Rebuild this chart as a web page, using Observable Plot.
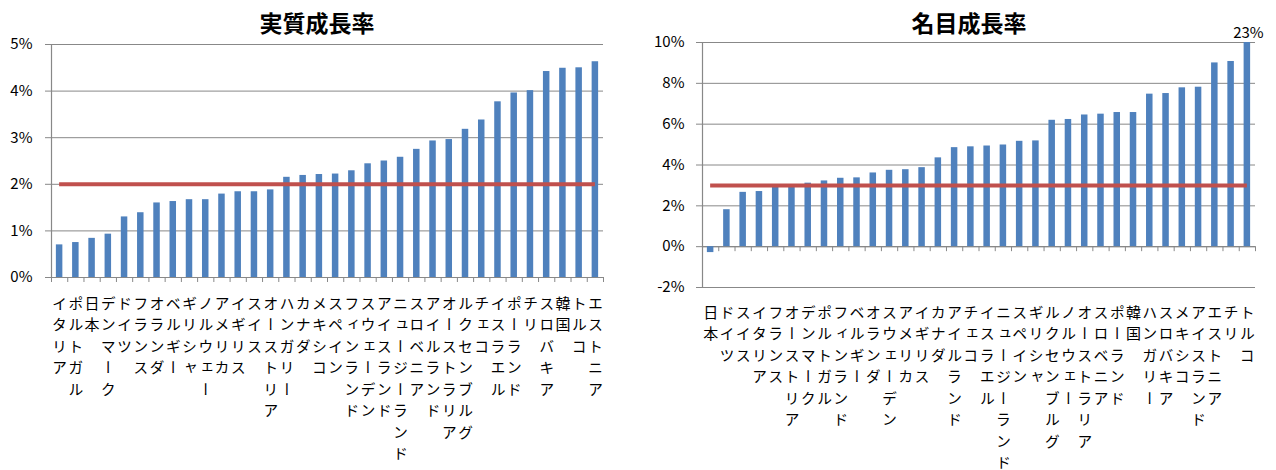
<!DOCTYPE html>
<html>
<head>
<meta charset="utf-8">
<script src="https://cdn.jsdelivr.net/npm/d3@7"></script>
<script src="https://cdn.jsdelivr.net/npm/@observablehq/plot@0.6"></script>
<style>
  body { margin: 0; background: #fff; }
  #wrap { position: relative; width: 1276px; height: 470px; overflow: hidden;
          font-family: "Noto Sans CJK JP", sans-serif; }
  .panel { position: absolute; top: 0; }
  .title { position: absolute; top: 9px; font-weight: bold; font-size: 23px; line-height: 26px;
           transform: translateX(-50%); white-space: nowrap; color: #000; }
</style>
</head>
<body>
<div id="wrap"></div>
<script>
// 実質成長率（昇順）
const realCountries = ["イタリア","ポルトガル","日本","デンマーク","ドイツ","フランス","オランダ","ベルギー","ギリシャ","ノルウェー","アメリカ","イギリス","スイス","オーストリア","ハンガリー","カナダ","メキシコ","スペイン","フィンランド","スウェーデン","アイスランド","ニュージーランド","スロベニア","アイルランド","オーストラリア","ルクセンブルグ","チェコ","イスラエル","ポーランド","チリ","スロバキア","韓国","トルコ","エストニア"];
const realGrowth = [0.70,0.75,0.84,0.93,1.30,1.39,1.60,1.63,1.67,1.67,1.79,1.84,1.84,1.88,2.15,2.19,2.21,2.22,2.29,2.44,2.50,2.58,2.75,2.93,2.96,3.18,3.38,3.77,3.96,4.01,4.42,4.49,4.50,4.63];
const realTarget = 2;
const realTicks = [0,1,2,3,4,5];

// 名目成長率（昇順）
const nominalCountries = ["日本","ドイツ","スイス","イタリア","フランス","オーストリア","デンマーク","ポルトガル","フィンランド","ベルギー","オランダ","スウェーデン","アメリカ","イギリス","カナダ","アイルランド","チェコ","イスラエル","ニュージーランド","スペイン","ギリシャ","ルクセンブルグ","ノルウェー","オーストラリア","スロベニア","ポーランド","韓国","ハンガリー","スロバキア","メキシコ","アイスランド","エストニア","チリ","トルコ"];
const nominalGrowth = [-0.29,1.81,2.66,2.70,2.95,3.00,3.11,3.22,3.35,3.37,3.61,3.74,3.77,3.87,4.35,4.85,4.89,4.93,4.98,5.16,5.18,6.19,6.23,6.45,6.49,6.57,6.57,7.47,7.50,7.78,7.81,9.00,9.07,23];
const nominalTarget = 3;
const nominalTicks = [-2,0,2,4,6,8,10];

const BLUE = "#4F81BD", RED = "#C0504D", GRID = "#888888";

function growthChart(o) {
  const n = o.countries.length;
  const rows = o.countries.map((name, i) => ({name, i, value: o.values[i]}));
  const [lo, hi] = [d3.min(o.ticks), d3.max(o.ticks)];
  const over = rows.filter(d => d.value > hi);

  const svg = Plot.plot({
    width: o.width,
    height: 470,
    marginLeft: o.marginLeft,
    marginRight: o.marginRight,
    marginTop: o.marginTop,
    marginBottom: o.marginBottom,
    style: {fontFamily: "Noto Sans CJK JP, sans-serif", fontSize: "15px", color: "#000", background: "transparent"},
    x: {domain: [0, n], axis: null},
    y: {domain: [lo, hi], axis: null},
    marks: [
      // country names, one column per bar
      Plot.text(rows, {x: d => d.i + 0.5, text: "name", frameAnchor: "bottom", textAnchor: "start",
                       dy: o.labelOffset, fontSize: 15, fill: "#000"}),
      Plot.gridY(o.ticks, {stroke: GRID, strokeOpacity: 1, strokeWidth: 1}),
      Plot.axisY(o.ticks, {tickSize: 6, tickPadding: o.tickPadding, stroke: GRID, fill: "#000",
                           fontSize: 15, label: null, tickFormat: d => d + "%"}),
      Plot.ruleX([0], {stroke: GRID, strokeWidth: 1.2}),
      Plot.ruleY([0], {stroke: GRID, strokeWidth: 1.2}),
      Plot.ruleX(d3.range(n + 1), {y1: 0, y2: 0, insetBottom: -5, stroke: GRID, strokeWidth: 1}),
      Plot.rectY(rows, {x1: d => d.i + 0.3, x2: d => d.i + 0.7, y: "value", fill: BLUE, clip: true}),
      Plot.ruleY([o.target], {x1: 0.5, x2: n - 0.5, stroke: RED, strokeWidth: 4}),
      Plot.text(over, {x: d => d.i + 0.5, frameAnchor: "top", text: d => d.value + "%",
                       dy: -15, dx: 1, fontSize: 15, fill: "#000"})
    ]
  });

  // set the country names in vertical writing
  const labelGroup = svg.querySelector('g[aria-label="text"]');
  d3.select(labelGroup).selectAll("text")
    .attr("dy", null)
    .style("writing-mode", "vertical-rl")
    .style("letter-spacing", "6.5px");
  return svg;
}

const wrap = document.getElementById("wrap");

function addPanel(left, svg, title, titleX) {
  const div = document.createElement("div");
  div.className = "panel";
  div.style.left = left + "px";
  div.appendChild(svg);
  wrap.appendChild(div);
  const t = document.createElement("div");
  t.className = "title";
  t.style.left = titleX + "px";
  t.textContent = title;
  wrap.appendChild(t);
}

addPanel(0, growthChart({
  countries: realCountries, values: realGrowth, target: realTarget, ticks: realTicks,
  width: 640, marginLeft: 51, marginRight: 37, marginTop: 44, marginBottom: 193,
  tickPadding: 13, labelOffset: 18
}), "実質成長率", 317);

addPanel(640, growthChart({
  countries: nominalCountries, values: nominalGrowth, target: nominalTarget, ticks: nominalTicks,
  width: 636, marginLeft: 62, marginRight: 21, marginTop: 42, marginBottom: 183,
  tickPadding: 12, labelOffset: 17
}), "名目成長率", 969);
</script>
</body>
</html>
